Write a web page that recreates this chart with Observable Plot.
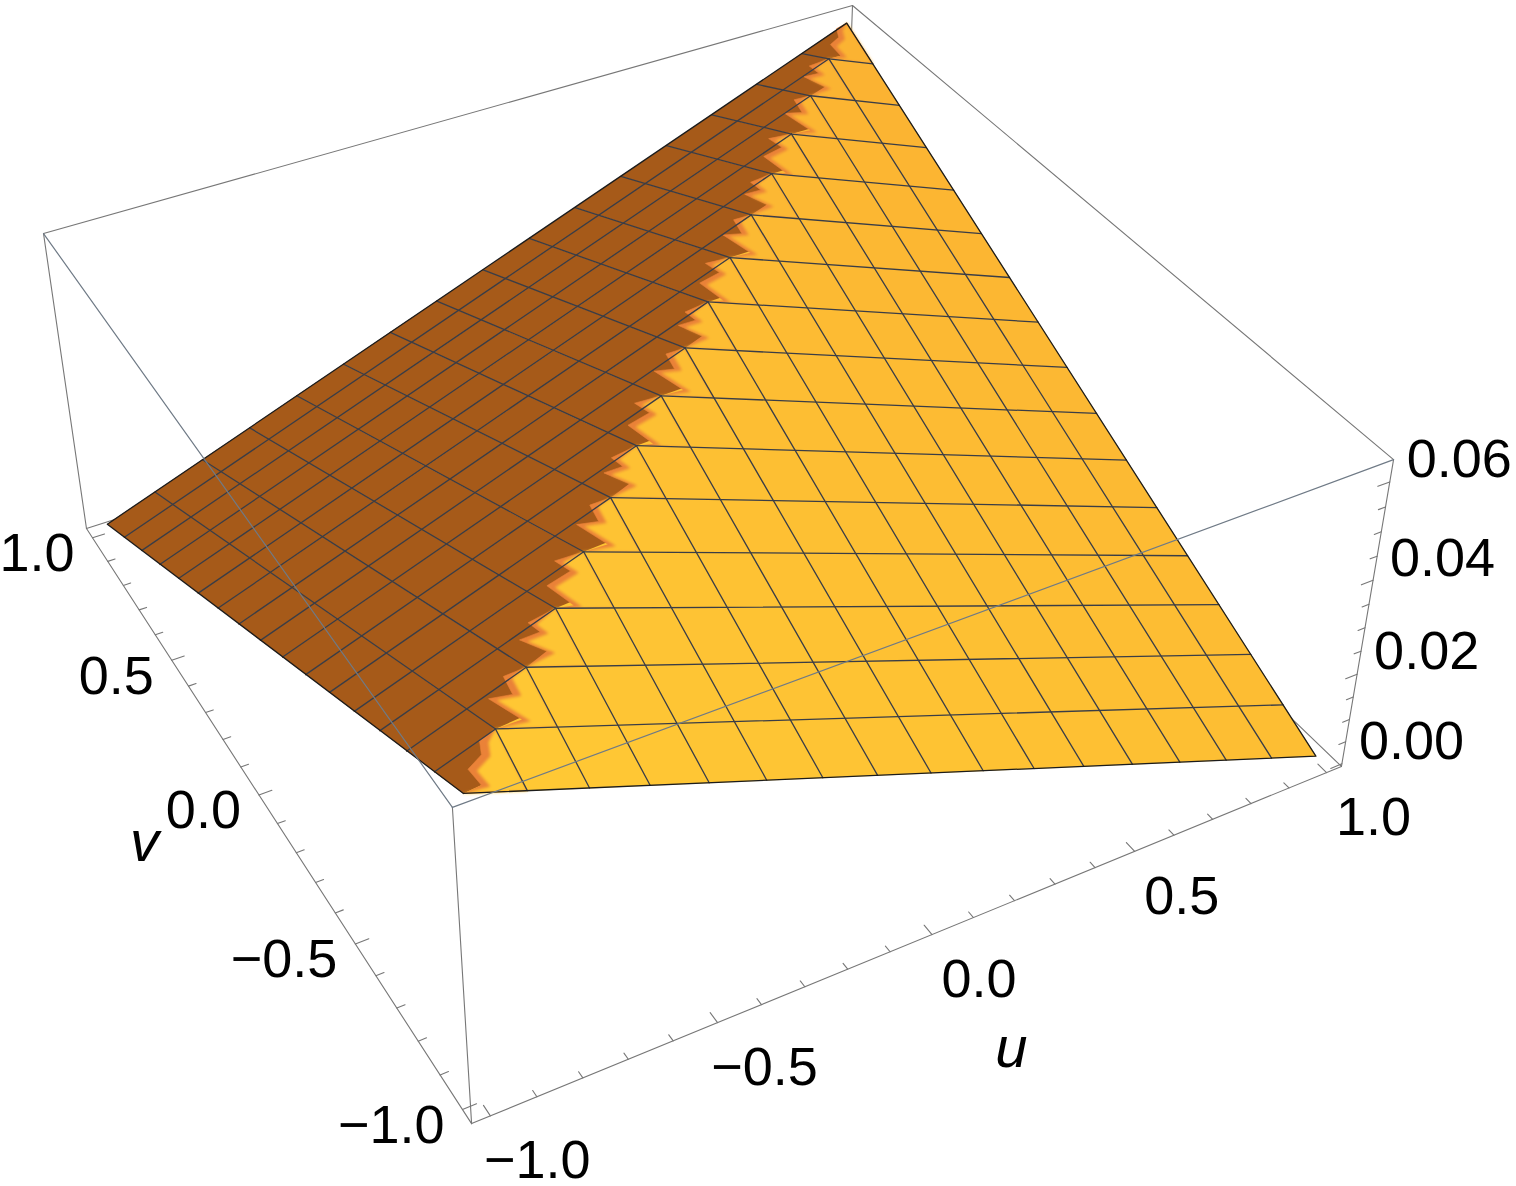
<!DOCTYPE html>
<html><head><meta charset="utf-8">
<style>html,body{margin:0;padding:0;background:#fff}svg{display:block}</style>
<script src="https://cdn.jsdelivr.net/npm/d3@7"></script>
<script src="https://cdn.jsdelivr.net/npm/@observablehq/plot@0.6"></script>
</head><body><div id="chart"></div>
<script>
const uGrid=[-1,-0.875,-0.75,-0.625,-0.5,-0.375,-0.25,-0.125,0,0.125,0.25,0.375,0.5,0.625,0.75,0.875,1];
const vGrid=uGrid;
const heightYellow=[0.0630,0.0591,0.0552,0.0513,0.0474,0.0435,0.0396,0.0357,0.0318,0.0279,0.0240,0.0201,0.0162,0.0123,0.0084,0.0045,0.0006];
const heightDark=[0.0630,0.0591,0.0552,0.0514,0.0475,0.0437,0.0398,0.0360,0.0321,0.0283,0.0245,0.0206,0.0168,0.0129,0.0091,0.0052,0.0014];
const boxU=[-1.04,1.04],boxV=[-1.04,1.04],boxZ=[-0.0006,0.0644];
const uLabels=[-1,-0.5,0,0.5,1],vLabels=[-1,-0.5,0,0.5,1],zLabels=[0,0.02,0.04,0.06];
const uMinor=d3.range(-10,11).map(d=>d/10),vMinor=uMinor,zMinor=d3.range(0,13).map(d=>d*0.005);
const camera=[0.423126,-0.148978,-0.024607,0.684546,-0.106843,-0.192627,-0.166699,0.638886,0.050814,0.095156,-0.035976];
const ZS=30,P=camera;
function proj(u,v,z){const Z=z*ZS,w=P[8]*u+P[9]*v+P[10]*Z+1;
  return [1000*(P[0]*u+P[1]*v+P[2]*Z+P[3])/w,1000*(P[4]*u+P[5]*v+P[6]*Z+P[7])/w];}
const node=(i,j)=>proj(uGrid[i],vGrid[j],(i>=j?heightYellow:heightDark)[Math.abs(i-j)]);
const n=uGrid.length-1;
const creaseProfiles=[
 [[0.34,0.05],[0.06,0.40],[0.60,0.66],[0.42,0.84]],
 [[0.50,0.14],[0.14,0.50],[0.56,0.56],[0.56,0.86]],
 [[0.48,0.27],[0.13,0.47],[0.54,0.60],[0.42,0.76]]
];
const endProfile=[[0.34,0.12],[0.26,0.38],[0.58,0.60],[0.66,0.82]];
const dark="#A65A19",yellowAt=d3.interpolateRgb("#FFC934","#FBB232");
const base=[],halo=[],soft=[],flat=[];let fid=0;
function face(rows,pts,fill){const id=fid++;for(const p of pts)rows.push({id,x:p[0],y:p[1],fill});}
for(let i=0;i<n;i++){for(let j=i+1;j<n;j++){
  face(base,[node(i,j),node(i+1,j),node(i+1,j+1),node(i,j+1)],dark);}}
for(let i=0;i<n;i++){const B=node(i,i),A=node(i+1,i+1),E=node(i+1,i),N=node(i,i+1);
  const eu=[E[0]-B[0],E[1]-B[1]],ev=[A[0]-E[0],A[1]-E[1]];
  const at=(a,b)=>[B[0]+a*eu[0]+b*ev[0],B[1]+a*eu[1]+b*ev[1]];
  const t=(uGrid[i]+vGrid[i]+2.125)/4;
  face(base,[B,E,A],yellowAt(t));
  face(base,[B,N,A,at(.85,.3)],dark);
  const prof=(i===0||i===n-1)?endProfile:creaseProfiles[i%3];
  face(halo,[B,E,A,...prof.map(([a,b])=>at(a,b)).reverse()],"#EA8238");
  face(soft,[B,E,A,...prof.map(([a,b])=>at(a+0.13,b-0.03)).reverse()],yellowAt(t));}
for(let j=0;j<n;j++){for(let i=j+1;i<n;i++){
  const t=(uGrid[i]+vGrid[j]+2.125)/4;
  face(flat,[node(i,j),node(i+1,j),node(i+1,j+1),node(i,j+1)],yellowAt(t));}}
const mesh=[];let mid=0;
function mline(pts){const id=mid++;for(const p of pts)mesh.push({id,x:p[0],y:p[1]});}
for(let k=1;k<n;k++){
  mline([node(k,k),node(n,k)]);
  mline([node(k,k),node(k,0)]);
  mline([node(k,k),node(0,k)]);
  mline([node(k,k),node(k,n)]);
}
const outline=[node(0,0),node(n,0),node(n,n),node(0,n),node(0,0)].map(p=>({x:p[0],y:p[1]}));
const [ul,uh]=boxU,[vl,vh]=boxV,[zl,zh]=boxZ;
function seg(rows,id,a,b){rows.push({id,x:a[0],y:a[1]},{id,x:b[0],y:b[1]});}
const back=[],front=[];
seg(back,0,proj(ul,vh,zh),proj(uh,vh,zh));
seg(back,1,proj(uh,vh,zh),proj(uh,vl,zh));
seg(back,2,proj(uh,vh,zh),proj(uh,vh,zl));
seg(back,3,proj(uh,vh,zl),proj(ul,vh,zl));
seg(back,4,proj(uh,vh,zl),proj(uh,vl,zl));
seg(back,5,proj(ul,vl,zl),proj(uh,vl,zl));
seg(back,6,proj(ul,vl,zl),proj(ul,vh,zl));
seg(back,7,proj(ul,vh,zl),proj(ul,vh,zh));
seg(back,8,proj(uh,vl,zl),proj(uh,vl,zh));
seg(back,9,proj(ul,vl,zl),proj(ul,vl,zh));
seg(front,0,proj(ul,vl,zh),proj(uh,vl,zh));
seg(front,1,proj(ul,vl,zh),proj(ul,vh,zh));
const ticks=[];let tid=0;const MAJ=0.03,MIN=0.018;
for(const u of uMinor){const L=uLabels.includes(u)?MAJ:MIN;seg(ticks,tid++,proj(u,vl,zl),proj(u,vl+L,zl));}
for(const v of vMinor){const L=vLabels.includes(v)?MAJ:MIN;seg(ticks,tid++,proj(ul,v,zl),proj(ul+L,v,zl));}
for(const z of zMinor){const L=zLabels.some(q=>Math.abs(q-z)<1e-9)?MAJ:MIN;seg(ticks,tid++,proj(uh,vl,z),proj(uh-L,vl,z));}
const fmtLab=d=>(d<0?"\u2212":"")+Math.abs(d).toFixed(1);
const uText=uLabels.map(d=>{const p=proj(d,vl,zl);return{x:p[0],y:p[1],t:fmtLab(d)};});
const vText=vLabels.map(d=>{const p=proj(ul,d,zl);return{x:p[0],y:p[1],t:fmtLab(d)};});
const zText=zLabels.map(d=>{const p=proj(uh,vl,d);return{x:p[0],y:p[1],t:d.toFixed(2)};});
const uTitlePos=proj(0.1,vl,zl),vTitlePos=proj(ul,-0.1,zl);
const FONT="Liberation Sans, Arial, sans-serif",FS=54;
const poly=(rows,extra={})=>Plot.line(rows,{x:"x",y:"y",z:"id",fill:"fill",stroke:"fill",strokeWidth:0.6,...extra});
const chart=Plot.plot({width:1516,height:1186,margin:0,
 x:{domain:[0,1516],range:[0,1516],axis:null},y:{domain:[0,1186],range:[0,1186],axis:null},color:{type:"identity"},
 style:{background:"#fff"},
 marks:[
  Plot.line(back,{x:"x",y:"y",z:"id",stroke:"#777",strokeWidth:1.1}),
  poly(base),
  poly(halo,{imageFilter:"blur(0.7px)"}),
  poly(soft,{imageFilter:"blur(1.8px)"}),
  poly(flat),
  Plot.line(mesh,{x:"x",y:"y",z:"id",stroke:"#3A3D46",strokeWidth:1.3}),
  Plot.line(outline,{x:"x",y:"y",stroke:"#1c1c1c",strokeWidth:1.3}),
  Plot.line(front,{x:"x",y:"y",z:"id",stroke:"#6f7a86",strokeWidth:1.2}),
  Plot.line(ticks,{x:"x",y:"y",z:"id",stroke:"#777",strokeWidth:1.1}),
  Plot.text(uText,{x:"x",y:"y",text:"t",dx:47,dy:45,fontSize:FS,fontFamily:FONT,fill:"#000",textAnchor:"middle",lineAnchor:"middle"}),
  Plot.text(vText,{x:"x",y:"y",text:"t",dx:-18,dy:16,fontSize:FS,fontFamily:FONT,fill:"#000",textAnchor:"end",lineAnchor:"middle"}),
  Plot.text(zText,{x:"x",y:"y",text:"t",dx:17,dy:-22,fontSize:FS,fontFamily:FONT,fill:"#000",textAnchor:"start",lineAnchor:"middle"}),
  Plot.text([{x:uTitlePos[0],y:uTitlePos[1]}],{x:"x",y:"y",text:()=>"u",dx:38,dy:131,fontSize:58,fontFamily:FONT,fontStyle:"italic",fill:"#000",textAnchor:"middle",lineAnchor:"middle"}),
  Plot.text([{x:vTitlePos[0],y:vTitlePos[1]}],{x:"x",y:"y",text:()=>"v",dx:-133,dy:19,fontSize:58,fontFamily:FONT,fontStyle:"italic",fill:"#000",textAnchor:"middle",lineAnchor:"middle"})
 ]});
document.getElementById("chart").append(chart);
</script></body></html>
